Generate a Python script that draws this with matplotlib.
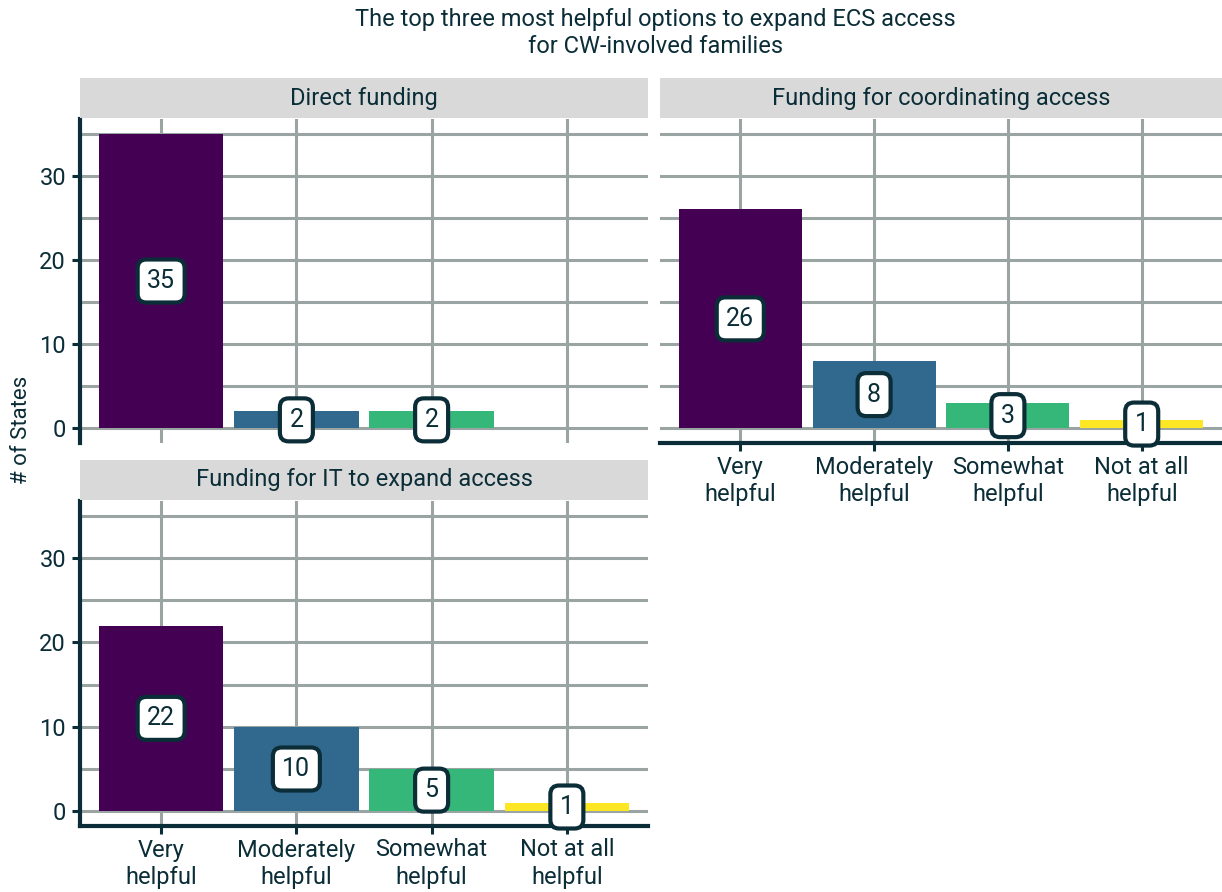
import numpy as np
import matplotlib.pyplot as plt
from matplotlib.patches import Rectangle

plt.rcParams['font.family'] = ['Roboto', 'DejaVu Sans']

# ---- data ----
categories = ["Very\nhelpful", "Moderately\nhelpful", "Somewhat\nhelpful", "Not at all\nhelpful"]
panel_titles = ["Direct funding", "Funding for coordinating access", "Funding for IT to expand access"]
direct_funding = [35, 2, 2, 0]
coordinating = [26, 8, 3, 1]
it_access = [22, 10, 5, 1]
bar_colors = ["#440154", "#31688E", "#35B779", "#FDE725"]

title = "The top three most helpful options to expand ECS access\nfor CW-involved families"
ylabel = "# of States"

# ---- style ----
INK = "#0B2D37"
GRID = "#9AA4A3"
STRIP = "#D9D9D9"
FS = 17
W, H = 1222, 892
DPI = 100

fig = plt.figure(figsize=(W / DPI, H / DPI), dpi=DPI)


def px_axes(x0, y0, x1, y1):
    return fig.add_axes([x0 / W, 1 - y1 / H, (x1 - x0) / W, (y1 - y0) / H])


def draw_panel(box, strip_box, name, values, show_left, show_bottom):
    ax = px_axes(*box)
    x = np.arange(len(categories))
    for i, v in enumerate(values):
        if v > 0:
            ax.bar(x[i], v, width=0.92, color=bar_colors[i], zorder=2)
            ax.text(x[i], v / 2, str(v), ha="center", va="center", fontsize=18,
                    color=INK, zorder=4,
                    bbox=dict(boxstyle="round,pad=0.38,rounding_size=0.35",
                              fc="white", ec=INK, lw=3))
    ax.set_xlim(-0.6, 3.6)
    ax.set_ylim(-1.75, 36.75)
    ax.set_yticks([0, 10, 20, 30])
    ax.set_yticks([5, 15, 25, 35], minor=True)
    ax.set_xticks(x)
    ax.grid(True, which="both", color=GRID, lw=2.2, zorder=0)
    ax.set_axisbelow(True)
    for s in ax.spines.values():
        s.set_visible(False)
    ax.tick_params(which="minor", length=0)
    if show_left:
        ax.spines["left"].set_visible(True)
        ax.spines["left"].set_color(INK)
        ax.spines["left"].set_linewidth(3)
        ax.tick_params(axis="y", length=6, width=2.2, color=INK,
                       labelsize=FS, labelcolor=INK, pad=4)
    else:
        ax.tick_params(axis="y", length=0, labelleft=False)
    if show_bottom:
        ax.spines["bottom"].set_visible(True)
        ax.spines["bottom"].set_color(INK)
        ax.spines["bottom"].set_linewidth(3)
        ax.set_xticklabels(categories, linespacing=1.25)
        ax.tick_params(axis="x", length=6, width=2.2, color=INK,
                       labelsize=FS, labelcolor=INK, pad=3)
    else:
        ax.tick_params(axis="x", length=0, labelbottom=False)

    sax = px_axes(*strip_box)
    sax.add_patch(Rectangle((0, 0), 1, 1, transform=sax.transAxes,
                            fc=STRIP, ec="none"))
    sax.set_axis_off()
    sax.text(0.5, 0.5, name, ha="center", va="center", fontsize=FS,
             color=INK, transform=sax.transAxes)
    return ax


draw_panel((80, 119, 648, 443), (80, 78, 648, 118), panel_titles[0],
           direct_funding, True, False)
draw_panel((660, 119, 1222, 443), (660, 78, 1222, 118), panel_titles[1],
           coordinating, False, True)
draw_panel((80, 501, 648, 826), (80, 460, 648, 500), panel_titles[2],
           it_access, True, True)

fig.text(655 / W, 1 - 33 / H, title, ha="center", va="center", fontsize=FS,
         color=INK, linespacing=1.25)
fig.text(22 / W, 1 - 430 / H, ylabel, ha="center", va="center", rotation=90,
         fontsize=16, color=INK)

fig.savefig("out.png", dpi=DPI)
